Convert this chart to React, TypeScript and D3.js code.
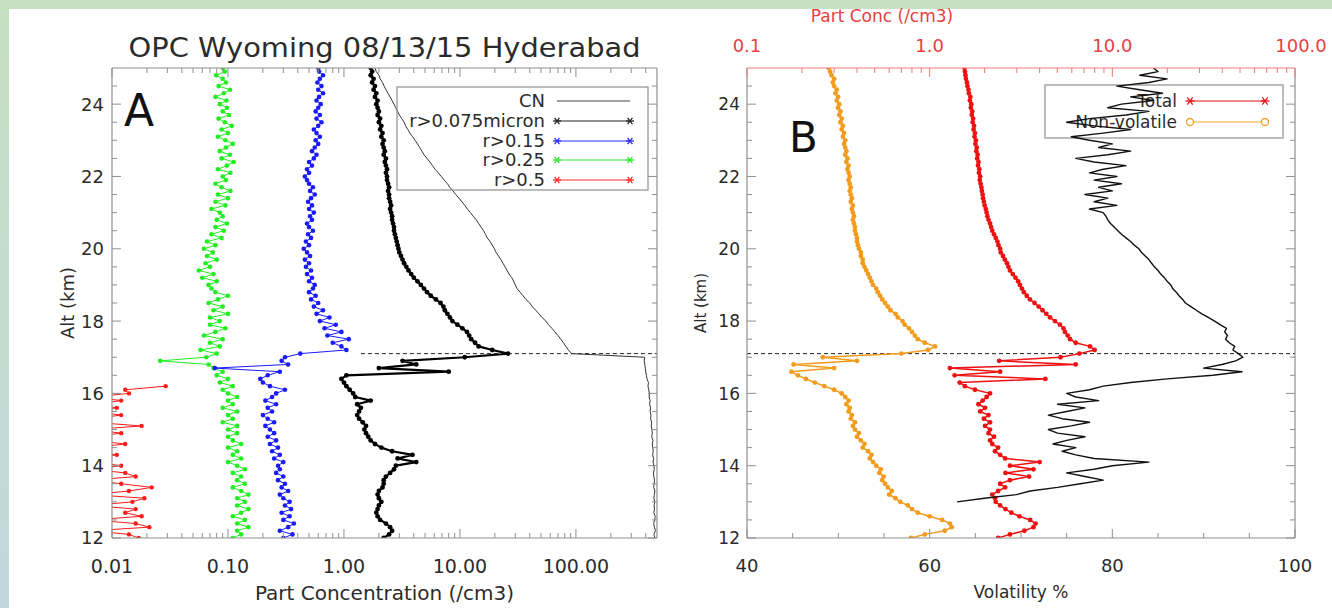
import React from 'react';
import * as d3 from 'd3';

// ---------------- DATA ----------------
const ALT = [
  12.0, 12.1, 12.2, 12.3, 12.4, 12.5, 12.6, 12.7, 12.8, 12.9,
  13.0, 13.1, 13.2, 13.3, 13.4, 13.5, 13.6, 13.7, 13.8, 13.9,
  14.0, 14.1, 14.2, 14.3, 14.4, 14.5, 14.6, 14.7, 14.8, 14.9,
  15.0, 15.1, 15.2, 15.3, 15.4, 15.5, 15.6, 15.7, 15.8, 15.9,
  16.0, 16.1, 16.2, 16.3, 16.4, 16.5, 16.6, 16.7, 16.8, 16.9,
  17.0, 17.1, 17.2, 17.3, 17.4, 17.5, 17.6, 17.7, 17.8, 17.9,
  18.0, 18.1, 18.2, 18.3, 18.4, 18.5, 18.6, 18.7, 18.8, 18.9,
  19.0, 19.1, 19.2, 19.3, 19.4, 19.5, 19.6, 19.7, 19.8, 19.9,
  20.0, 20.1, 20.2, 20.3, 20.4, 20.5, 20.6, 20.7, 20.8, 20.9,
  21.0, 21.1, 21.2, 21.3, 21.4, 21.5, 21.6, 21.7, 21.8, 21.9,
  22.0, 22.1, 22.2, 22.3, 22.4, 22.5, 22.6, 22.7, 22.8, 22.9,
  23.0, 23.1, 23.2, 23.3, 23.4, 23.5, 23.6, 23.7, 23.8, 23.9,
  24.0, 24.1, 24.2, 24.3, 24.4, 24.5, 24.6, 24.7, 24.8, 24.9,
  25.0,
];

// Panel A (/cm3)
const CN = [
  480, 470, 485, 475, 468, 478, 482, 470, 476, 472,
  478, 470, 474, 480, 468, 472, 476, 470, 466, 474,
  470, 462, 468, 458, 464, 460, 455, 462, 450, 456,
  452, 446, 450, 440, 444, 436, 440, 432, 436, 428,
  430, 424, 418, 422, 410, 405, 400, 396, 392, 388,
  390, 92, 86, 82, 78, 74, 70, 66, 62, 58,
  55, 51, 48, 45, 42, 40, 37, 35, 33, 31,
  30, 29, 28, 26.5, 25.5, 24.5, 23.5, 22.5, 21.5, 20.5,
  19.8, 19, 18.2, 17.2, 16.6, 16, 15.2, 14.5, 13.8, 13,
  12.3, 11.6, 11, 10.4, 9.8, 9.2, 8.7, 8.2, 7.8, 7.3,
  6.9, 6.5, 6.1, 5.8, 5.5, 5.2, 4.9, 4.7, 4.5, 4.3,
  4.1, 3.9, 3.7, 3.55, 3.4, 3.3, 3.15, 3.0, 2.9, 2.8,
  2.7, 2.6, 2.5, 2.4, 2.3, 2.22, 2.15, 2.05, 2.0, 1.9,
  1.85,
];
const R0075 = [
  2.2, 2.45, 2.6, 2.5, 2.3, 2.05, 1.95, 1.9, 1.95, 2.0,
  2.1, 2.0, 1.95, 2.0, 2.15, 2.2, 2.2, 2.3, 2.5, 2.7,
  2.8, 4.2, 2.9, 3.9, 2.6, 2.1, 1.85, 1.7, 1.62, 1.55,
  1.5, 1.55, 1.45, 1.35, 1.3, 1.35, 1.4, 1.3, 1.7, 1.25,
  1.2, 1.12, 1.05, 1.0, 0.95, 1.05, 8.0, 2.0, 4.2, 3.2,
  11, 26, 19, 14.5, 13.5, 12.5, 12, 11.5, 10.5, 9.5,
  8.6, 8.2, 7.8, 7.4, 7.2, 6.8, 6.2, 5.6, 5.2, 4.9,
  4.6, 4.3, 4.0, 3.8, 3.6, 3.45, 3.3, 3.2, 3.1, 3.0,
  2.95, 2.9, 2.85, 2.8, 2.75, 2.7, 2.7, 2.65, 2.6, 2.6,
  2.55, 2.5, 2.55, 2.5, 2.45, 2.45, 2.4, 2.45, 2.4, 2.35,
  2.35, 2.3, 2.35, 2.3, 2.25, 2.3, 2.2, 2.25, 2.2, 2.15,
  2.2, 2.1, 2.15, 2.05, 2.1, 2.0, 2.05, 1.95, 2.0, 1.95,
  1.9, 1.95, 1.85, 1.9, 1.8, 1.85, 1.75, 1.8, 1.7, 1.75,
  1.7,
];
const R015 = [
  0.30, 0.36, 0.28, 0.33, 0.37, 0.30, 0.34, 0.29, 0.35, 0.31,
  0.34, 0.30, 0.28, 0.33, 0.29, 0.31, 0.27, 0.30, 0.26, 0.28,
  0.27, 0.30, 0.25, 0.28, 0.24, 0.27, 0.23, 0.26, 0.22, 0.25,
  0.23, 0.21, 0.25, 0.22, 0.20, 0.24, 0.22, 0.26, 0.21, 0.24,
  0.26, 0.31, 0.23, 0.20, 0.19, 0.22, 0.28, 0.077, 0.33, 0.29,
  0.31, 0.42, 1.05, 0.95, 0.80, 1.1, 0.72, 0.95, 0.68, 0.85,
  0.62, 0.75, 0.58, 0.66, 0.55, 0.60, 0.52, 0.57, 0.50, 0.54,
  0.56, 0.50, 0.53, 0.48, 0.52, 0.47, 0.50, 0.46, 0.51, 0.48,
  0.45, 0.50, 0.47, 0.52, 0.49, 0.54, 0.50, 0.48, 0.53, 0.51,
  0.55, 0.50, 0.53, 0.49, 0.52, 0.56, 0.51, 0.54, 0.50, 0.48,
  0.46, 0.50, 0.48, 0.53, 0.50, 0.55, 0.58, 0.53, 0.56, 0.60,
  0.57, 0.62, 0.58, 0.55, 0.60, 0.64, 0.58, 0.62, 0.57, 0.60,
  0.63, 0.58, 0.61, 0.66, 0.60, 0.64, 0.59, 0.62, 0.66, 0.61,
  0.60,
];
const R025 = [
  0.11, 0.13, 0.12, 0.15, 0.12, 0.14, 0.11, 0.13, 0.15, 0.12,
  0.14, 0.12, 0.15, 0.13, 0.11, 0.14, 0.12, 0.13, 0.11, 0.14,
  0.12, 0.10, 0.13, 0.11, 0.12, 0.10, 0.13, 0.11, 0.10, 0.12,
  0.10, 0.12, 0.09, 0.11, 0.10, 0.12, 0.09, 0.11, 0.10, 0.12,
  0.10, 0.09, 0.11, 0.085, 0.10, 0.08, 0.09, 0.075, 0.068, 0.026,
  0.065, 0.08, 0.058, 0.085, 0.07, 0.09, 0.062, 0.078, 0.095, 0.07,
  0.085, 0.07, 0.1, 0.075, 0.09, 0.068, 0.082, 0.1, 0.078, 0.072,
  0.068, 0.08, 0.06, 0.075, 0.056, 0.07, 0.064, 0.08, 0.066, 0.074,
  0.062, 0.078, 0.066, 0.088, 0.072, 0.092, 0.078, 0.098, 0.08, 0.09,
  0.085, 0.072, 0.095, 0.078, 0.1, 0.082, 0.105, 0.088, 0.078, 0.096,
  0.09, 0.105, 0.082, 0.098, 0.112, 0.088, 0.104, 0.085, 0.096, 0.11,
  0.095, 0.082, 0.1, 0.088, 0.108, 0.094, 0.083, 0.102, 0.09, 0.098,
  0.085, 0.097, 0.078, 0.092, 0.104, 0.083, 0.096, 0.09, 0.079, 0.094,
  0.09,
];
// 0 = below the log axis (drawn to the left edge); null = no data
const R05 = [
  0.017, 0.014, 0, 0.021, 0.016, 0, 0.018, 0.013, 0.016, 0,
  0.015, 0.019, 0, 0.014, 0.022, 0.012, 0, 0.016, 0.013, 0,
  0.012, 0, 0, 0.011, 0, 0, 0.013, 0, 0, 0.012,
  0, 0.018, 0, 0, 0.012, 0, 0.011, 0, 0.012, 0,
  0.014, 0.013, 0.029,
];

// Panel B
const NONVOL = [
  0.79, 0.94, 1.21, 1.32, 1.29, 1.17, 1.0, 0.86, 0.8, 0.76,
  0.69, 0.65, 0.60, 0.62, 0.59, 0.57, 0.55, 0.56, 0.53, 0.54,
  0.51, 0.49, 0.47, 0.48, 0.46, 0.43, 0.44, 0.42, 0.40, 0.41,
  0.39, 0.38, 0.39, 0.37, 0.375, 0.36, 0.365, 0.35, 0.36, 0.345,
  0.33, 0.30, 0.265, 0.235, 0.21, 0.19, 0.175, 0.30, 0.18, 0.40,
  0.26, 0.70, 0.98, 1.07, 0.94, 0.86, 0.83, 0.80, 0.77, 0.73,
  0.71, 0.67, 0.65, 0.61, 0.59, 0.57, 0.55, 0.535, 0.52, 0.51,
  0.49, 0.48, 0.47, 0.46, 0.45, 0.44, 0.43, 0.43, 0.42, 0.42,
  0.41, 0.405, 0.40, 0.40, 0.395, 0.39, 0.39, 0.385, 0.38, 0.385,
  0.38, 0.375, 0.38, 0.37, 0.375, 0.37, 0.365, 0.37, 0.365, 0.36,
  0.365, 0.36, 0.355, 0.36, 0.35, 0.355, 0.345, 0.35, 0.345, 0.34,
  0.345, 0.335, 0.34, 0.33, 0.335, 0.325, 0.33, 0.32, 0.325, 0.315,
  0.32, 0.31, 0.315, 0.305, 0.31, 0.30, 0.295, 0.30, 0.29, 0.285,
  0.28,
];
const TOTAL = [
  2.37, 2.75, 3.3, 3.7, 3.8, 3.55, 3.1, 2.8, 2.6, 2.43,
  2.3, 2.28, 2.2, 2.37, 2.59, 2.43, 2.75, 3.5, 2.6, 3.7,
  2.75, 4.0, 2.59, 2.43, 2.28, 2.37, 2.2, 2.14, 2.25, 2.1,
  2.14, 2.01, 2.14, 1.98, 2.1, 1.89, 2.01, 1.85, 1.95, 2.05,
  2.14, 1.77, 1.56, 1.46, 4.3, 1.37, 2.43, 1.29, 6.3, 2.4,
  5.2, 6.6, 8.0, 7.55, 6.3, 5.87, 5.7, 5.5, 5.4, 5.17,
  4.85, 4.56, 4.35, 4.15, 3.95, 3.75, 3.54, 3.4, 3.28, 3.2,
  3.12, 3.05, 2.95, 2.85, 2.75, 2.7, 2.65, 2.58, 2.52, 2.45,
  2.43, 2.38, 2.35, 2.3, 2.25, 2.2, 2.17, 2.14, 2.1, 2.07,
  2.05, 2.03, 2.0, 1.98, 1.96, 1.95, 1.93, 1.92, 1.9, 1.88,
  1.89, 1.86, 1.87, 1.84, 1.85, 1.82, 1.83, 1.8, 1.81, 1.78,
  1.79, 1.76, 1.77, 1.74, 1.75, 1.72, 1.73, 1.7, 1.71, 1.68,
  1.69, 1.66, 1.67, 1.64, 1.63, 1.61, 1.6, 1.58, 1.57, 1.56,
  1.55,
];
const VOLATILITY = [
  null, null, null, null, null, null, null, null, null, null,
  63.0, 66, 69.5, 71, 74, 76.5, 79, 77, 75, 78,
  80, 84, 78, 76, 74.5, 76, 73.5, 75, 77, 74,
  73, 75.5, 77.5, 74.5, 73, 75, 77, 74, 78.5, 76,
  75, 77.5, 79, 82, 86, 91, 94.2, 90, 92, 93.5,
  94.3, 93.8, 93.2, 93.4, 92.8, 92.4, 92.6, 92.3, 92.5, 91.8,
  91.2, 90.5, 89.8, 89.2, 88.6, 88.0, 87.7, 87.3, 87.0, 86.6,
  86.4, 86.0, 85.7, 85.3, 85.0, 84.6, 84.3, 84.0, 83.6, 83.2,
  82.9, 82.4, 82.0, 81.5, 81.0, 80.6, 80.2, 79.8, 79.5, 79.3,
  79.0, 77.5, 80.5, 78.0, 79.5, 77.0, 80.0, 78.5, 81.0, 78.0,
  80.5, 77.5, 79.0, 81.5, 78.0, 76.0, 79.5, 82.0, 78.5, 80.0,
  77.5, 75.5, 79.0, 82.0, 78.0, 75.0, 77.5, 81.5, 84.0, 79.5,
  81.0, 84.5, 82.0, 85.5, 83.0, 80.5, 84.0, 86.0, 83.0, 85.0,
  84.5,
];

const TROPOPAUSE = 17.1;
const ALT_TICKS = [12, 14, 16, 18, 20, 22, 24];
const A_X_TICKS = [0.01, 0.1, 1, 10, 100];
const A_X_LABELS = ['0.01', '0.10', '1.00', '10.00', '100.00'];
const B_X_TICKS = [40, 60, 80, 100];
const B_TOP_TICKS = [0.1, 1, 10, 100];
const B_TOP_LABELS = ['0.1', '1.0', '10.0', '100.0'];
const LEGEND_A = ['CN', 'r>0.075micron', 'r>0.15', 'r>0.25', 'r>0.5'];
const LEGEND_B = ['Total', 'Non-volatile'];

// ---------------- LAYOUT ----------------
const W = 1332, H = 608;
const PA = { x0: 112, x1: 657, y0: 68, y1: 538 };
const PB = { x0: 747, x1: 1295, y0: 68, y1: 538 };
const FONT = '"DejaVu Sans", Verdana, sans-serif';
const FRAME = '#8f8f8f';
const TXT = '#2b2b2b';

const yA = d3.scaleLinear().domain([12, 25]).range([PA.y1, PA.y0]);
const yB = d3.scaleLinear().domain([12, 25]).range([PB.y1, PB.y0]);
const xA = d3.scaleLog().domain([0.01, 500]).range([PA.x0, PA.x1]);
const xB = d3.scaleLinear().domain([40, 100]).range([PB.x0, PB.x1]);
const xBt = d3.scaleLog().domain([0.1, 100]).range([PB.x0, PB.x1]);

type Pt = { a: number; v: number };
function pts(vals: (number | null)[]): Pt[] {
  const out: Pt[] = [];
  vals.forEach((v, i) => { if (v !== null && v !== undefined) out.push({ a: ALT[i], v }); });
  return out;
}

function logMinor(lo: number, hi: number): number[] {
  const out: number[] = [];
  for (let e = Math.floor(Math.log10(lo)); e <= Math.ceil(Math.log10(hi)); e++) {
    for (let m = 2; m <= 9; m++) {
      const v = m * Math.pow(10, e);
      if (v > lo && v < hi) out.push(v);
    }
  }
  return out;
}
const ALT_MINOR = d3.range(12.5, 25, 0.5).filter((a) => Math.abs(a % 2) > 0.01);

function Frame({ P, color = FRAME, topColor = FRAME }: any) {
  return (
    <g fill="none" strokeWidth={1.2}>
      <line x1={P.x0} y1={P.y1} x2={P.x1} y2={P.y1} stroke={color} />
      <line x1={P.x0} y1={P.y0} x2={P.x0} y2={P.y1} stroke={color} />
      <line x1={P.x1} y1={P.y0} x2={P.x1} y2={P.y1} stroke={color} />
      <line x1={P.x0} y1={P.y0} x2={P.x1} y2={P.y0} stroke={topColor} />
    </g>
  );
}

function YTicks({ P, y, labelX, fontSize }: any) {
  return (
    <g>
      {ALT_TICKS.map((t) => (
        <g key={'m' + t}>
          <line x1={P.x0} x2={P.x0 + 9} y1={y(t)} y2={y(t)} stroke={FRAME} />
          <line x1={P.x1} x2={P.x1 - 9} y1={y(t)} y2={y(t)} stroke={FRAME} />
          <text x={labelX} y={y(t)} dy="0.36em" textAnchor="end" fontSize={fontSize} fill={TXT} fontFamily={FONT}>{t}</text>
        </g>
      ))}
      {ALT_MINOR.map((t) => (
        <g key={'n' + t}>
          <line x1={P.x0} x2={P.x0 + 5} y1={y(t)} y2={y(t)} stroke={FRAME} />
          <line x1={P.x1} x2={P.x1 - 5} y1={y(t)} y2={y(t)} stroke={FRAME} />
        </g>
      ))}
    </g>
  );
}

function XTicks({ P, x, major, minor, bottom = true, top = true, color = FRAME }: any) {
  return (
    <g stroke={color}>
      {major.map((t: number) => (
        <g key={'M' + t}>
          {bottom && <line x1={x(t)} x2={x(t)} y1={P.y1} y2={P.y1 - 9} />}
          {top && <line x1={x(t)} x2={x(t)} y1={P.y0} y2={P.y0 + 9} />}
        </g>
      ))}
      {minor.map((t: number) => (
        <g key={'m' + t}>
          {bottom && <line x1={x(t)} x2={x(t)} y1={P.y1} y2={P.y1 - 5} />}
          {top && <line x1={x(t)} x2={x(t)} y1={P.y0} y2={P.y0 + 5} />}
        </g>
      ))}
    </g>
  );
}

function Series({ data, x, y, color, width = 1, r = 2, leftEdge }: any) {
  const px = (d: Pt) => (d.v > 0 ? x(d.v) : leftEdge - 20);
  const line = d3.line<Pt>().x(px).y((d) => y(d.a));
  return (
    <g>
      <path d={line(data) || ''} fill="none" stroke={color} strokeWidth={width} strokeLinejoin="round" />
      {r > 0 && data.filter((d: Pt) => d.v > 0).map((d: Pt, i: number) => (
        <circle key={i} cx={px(d)} cy={y(d.a)} r={r} fill={color} />
      ))}
    </g>
  );
}

function Star({ x, y, s = 4, color }: any) {
  return (
    <g stroke={color} strokeWidth={1.3}>
      <line x1={x - s} x2={x + s} y1={y} y2={y} />
      <line x1={x - s * 0.6} x2={x + s * 0.6} y1={y - s * 0.8} y2={y + s * 0.8} />
      <line x1={x - s * 0.6} x2={x + s * 0.6} y1={y + s * 0.8} y2={y - s * 0.8} />
    </g>
  );
}

export default function App() {
  const cn = pts(CN), r0075 = pts(R0075), r015 = pts(R015), r025 = pts(R025), r05 = pts(R05);
  const nonvol = pts(NONVOL), total = pts(TOTAL), vol = pts(VOLATILITY);
  const legColorsA = ['#444', '#222', '#2b2bff', '#2ee82e', '#ff2a2a'];
  const legY = [101, 121, 141, 160, 180];
  return (
    <svg width={W} height={H} style={{ position: 'absolute', left: 0, top: 0, background: '#fff' }}>
      <defs>
        <linearGradient id="leftband" x1="0" y1="0" x2="0" y2="1">
          <stop offset="0" stopColor="#c6e0c1" />
          <stop offset="1" stopColor="#c2d7dd" />
        </linearGradient>
        <clipPath id="clipA"><rect x={PA.x0} y={PA.y0} width={PA.x1 - PA.x0} height={PA.y1 - PA.y0} /></clipPath>
        <clipPath id="clipB"><rect x={PB.x0} y={PB.y0} width={PB.x1 - PB.x0} height={PB.y1 - PB.y0} /></clipPath>
      </defs>
      <rect x={0} y={0} width={W} height={H} fill="#fff" />
      <rect x={0} y={0} width={W} height={9} fill="#c7e1c2" />
      <rect x={0} y={0} width={9} height={H} fill="url(#leftband)" />

      {/* ---------- Panel A ---------- */}
      <text x={(PA.x0 + PA.x1) / 2} y={57} textAnchor="middle" fontSize={27} fill={TXT} fontFamily={FONT} textLength={512} lengthAdjust="spacingAndGlyphs">OPC Wyoming 08/13/15 Hyderabad</text>
      <g clipPath="url(#clipA)">
        <line x1={xA(1.4)} x2={PA.x1} y1={yA(TROPOPAUSE)} y2={yA(TROPOPAUSE)} stroke="#222" strokeDasharray="4,3" />
        <Series data={cn} x={xA} y={yA} color="#333" width={1} r={0} />
        <Series data={r05} x={xA} y={yA} color="#ff1a1a" width={1} r={2.2} leftEdge={PA.x0} />
        <Series data={r025} x={xA} y={yA} color="#22ee22" width={1} r={2.3} />
        <Series data={r015} x={xA} y={yA} color="#1a1aff" width={1} r={2.3} />
        <Series data={r0075} x={xA} y={yA} color="#000" width={2.2} r={2.4} />
      </g>
      <Frame P={PA} />
      <YTicks P={PA} y={yA} labelX={104} fontSize={18} />
      <XTicks P={PA} x={xA} major={A_X_TICKS} minor={logMinor(0.01, 500)} />
      {A_X_TICKS.map((t, i) => (
        <text key={t} x={xA(t)} y={573} textAnchor="middle" fontSize={19} fill={TXT} fontFamily={FONT}>{A_X_LABELS[i]}</text>
      ))}
      <text x={(PA.x0 + PA.x1) / 2} y={600} textAnchor="middle" fontSize={20} fill={TXT} fontFamily={FONT}>Part Concentration (/cm3)</text>
      <text transform={`translate(74,${(PA.y0 + PA.y1) / 2}) rotate(-90)`} textAnchor="middle" fontSize={18} fill={TXT} fontFamily={FONT}>Alt (km)</text>
      <text x={124} y={126} fontSize={44} fill="#111" fontFamily={FONT}>A</text>

      {/* Legend A */}
      <rect x={397} y={87} width={251} height={103} fill="none" stroke={FRAME} strokeWidth={1.2} />
      {LEGEND_A.map((lab, i) => (
        <g key={lab}>
          <text x={545} y={legY[i]} dy="0.36em" textAnchor="end" fontSize={18} fill={TXT} fontFamily={FONT}>{lab}</text>
          <line x1={557} x2={630} y1={legY[i]} y2={legY[i]} stroke={legColorsA[i]} strokeWidth={1} />
          {i > 0 && <Star x={557} y={legY[i]} color={legColorsA[i]} />}
          {i > 0 && <Star x={630} y={legY[i]} color={legColorsA[i]} />}
        </g>
      ))}

      {/* ---------- Panel B ---------- */}
      <g clipPath="url(#clipB)">
        <line x1={PB.x0} x2={PB.x1} y1={yB(TROPOPAUSE)} y2={yB(TROPOPAUSE)} stroke="#222" strokeDasharray="4,3" />
        <Series data={nonvol} x={xBt} y={yB} color="#f29b1c" width={1.5} r={2.4} />
        <Series data={total} x={xBt} y={yB} color="#ee1111" width={1.5} r={2.4} />
      </g>
      {/* Legend B */}
      <rect x={1045} y={85} width={238} height={53} fill="none" stroke={FRAME} strokeWidth={1.2} />
      <text x={1177} y={101} dy="0.36em" textAnchor="end" fontSize={17} fill={TXT} fontFamily={FONT}>{LEGEND_B[0]}</text>
      <line x1={1190} x2={1265} y1={101} y2={101} stroke="#ee1111" />
      <Star x={1190} y={101} s={4.5} color="#ee1111" />
      <Star x={1265} y={101} s={4.5} color="#ee1111" />
      <text x={1177} y={122} dy="0.36em" textAnchor="end" fontSize={17} fill={TXT} fontFamily={FONT}>{LEGEND_B[1]}</text>
      <line x1={1190} x2={1265} y1={122} y2={122} stroke="#f2a32a" />
      <circle cx={1190} cy={122} r={3.5} fill="#fff" stroke="#f2a32a" strokeWidth={1.3} />
      <circle cx={1265} cy={122} r={3.5} fill="#fff" stroke="#f2a32a" strokeWidth={1.3} />
      <g clipPath="url(#clipB)">
        <Series data={vol} x={xB} y={yB} color="#111" width={1.4} r={0} />
      </g>
      <Frame P={PB} topColor="#f07a7a" />
      <YTicks P={PB} y={yB} labelX={740} fontSize={17} />
      <XTicks P={PB} x={xB} major={B_X_TICKS} minor={[45, 50, 55, 65, 70, 75, 85, 90, 95]} top={false} />
      <XTicks P={PB} x={xBt} major={B_TOP_TICKS} minor={logMinor(0.1, 100)} bottom={false} color="#f07a7a" />
      {B_X_TICKS.map((t) => (
        <text key={t} x={xB(t)} y={572} textAnchor="middle" fontSize={18} fill={TXT} fontFamily={FONT}>{t}</text>
      ))}
      {B_TOP_TICKS.map((t, i) => (
        <text key={t} x={xBt(t) + (i === 3 ? 6 : 0)} y={52} textAnchor="middle" fontSize={18} fill="#e8403f" fontFamily={FONT}>{B_TOP_LABELS[i]}</text>
      ))}
      <text x={882} y={22} textAnchor="middle" fontSize={17} fill="#e8403f" fontFamily={FONT}>Part Conc (/cm3)</text>
      <text x={(PB.x0 + PB.x1) / 2} y={598} textAnchor="middle" fontSize={17} fill={TXT} fontFamily={FONT}>Volatility %</text>
      <text transform={`translate(706,${(PB.y0 + PB.y1) / 2}) rotate(-90)`} textAnchor="middle" fontSize={15} fill={TXT} fontFamily={FONT}>Alt (km)</text>
      <text x={789} y={152} fontSize={42} fill="#111" fontFamily={FONT}>B</text>
    </svg>
  );
}
